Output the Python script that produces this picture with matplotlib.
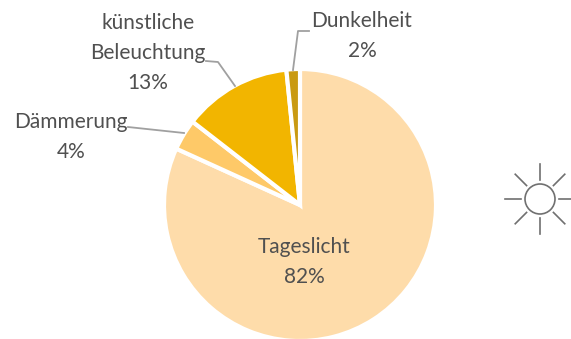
import numpy as np
import matplotlib
matplotlib.use("Agg")
import matplotlib.pyplot as plt

labels = ["Tageslicht\n82%", "Dämmerung\n4%", "künstliche\nBeleuchtung\n13%", "Dunkelheit\n2%"]
values = [81.8, 3.7, 12.9, 1.6]
colors = ["#fedcaa", "#fec968", "#f2b500", "#c99a12"]

W, H = 571, 339
plt.rcParams['font.family'] = ['Lato', 'DejaVu Sans']
fig = plt.figure(figsize=(W/100, H/100), dpi=100)
ax = fig.add_axes([0, 0, 1, 1])

# pie in pixel coords, y axis flipped so counterclock=True runs clockwise on screen
cx, cy, r = 300, 205, 136
ax.pie(values, colors=colors, center=(cx, cy), radius=r, startangle=-90, counterclock=True,
       wedgeprops=dict(edgecolor='white', linewidth=3), frame=True)
ax.set_xlim(0, W)
ax.set_ylim(H, 0)
ax.axis('off')

txt = "#505050"
fs = 15
sp = 1.62
ax.text(304, 262, labels[0], ha='center', va='center', fontsize=fs, color=txt, linespacing=sp)
ax.text(71, 137, labels[1], ha='center', va='center', fontsize=fs, color=txt, linespacing=sp)
ax.text(148, 53, labels[2], ha='center', va='center', fontsize=fs, color=txt, linespacing=sp)
ax.text(362, 36, labels[3], ha='center', va='center', fontsize=fs, color=txt, linespacing=sp)

grey = "#a0a0a0"
ax.plot([128, 184], [127, 133], color=grey, lw=1.3)
ax.plot([206, 218, 235], [61, 62, 86], color=grey, lw=1.3)
ax.plot([309, 298, 293], [31, 31, 70], color=grey, lw=1.3)

# sun icon
sx, sy = 540, 199
sun = "#707070"
ax.add_patch(plt.Circle((sx, sy), 15, fill=False, ec=sun, lw=1.2))
for a in np.arange(0, 360, 45):
    c, s = np.cos(np.radians(a)), np.sin(np.radians(a))
    ax.plot([sx+19*c, sx+35*c], [sy+19*s, sy+35*s], color=sun, lw=1.2)

fig.savefig("out.png", dpi=100)
